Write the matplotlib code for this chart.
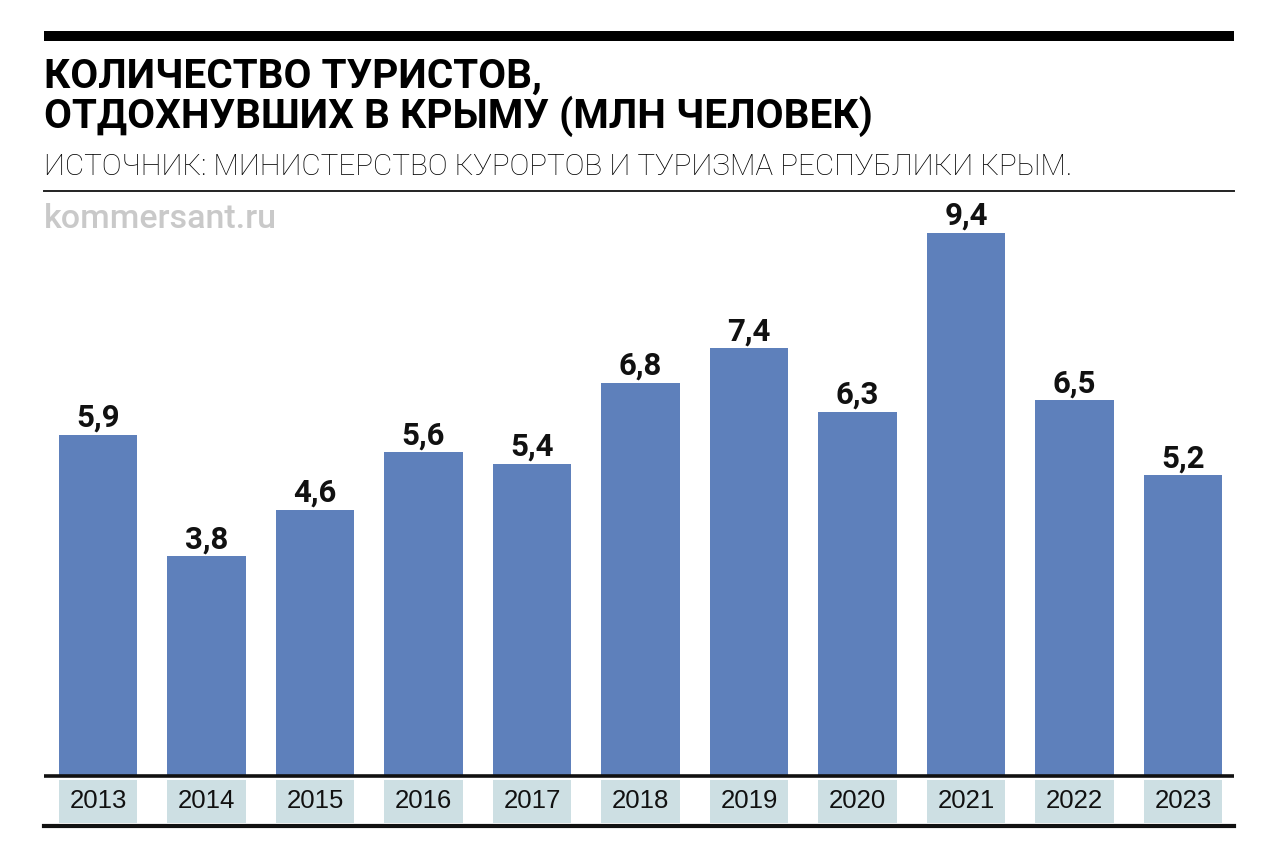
import matplotlib
matplotlib.use("Agg")
import matplotlib.pyplot as plt
from matplotlib.lines import Line2D
from matplotlib.patches import Rectangle

years = ["2013", "2014", "2015", "2016", "2017", "2018", "2019", "2020", "2021", "2022", "2023"]
values = [5.9, 3.8, 4.6, 5.6, 5.4, 6.8, 7.4, 6.3, 9.4, 6.5, 5.2]
value_labels = ["5,9", "3,8", "4,6", "5,6", "5,4", "6,8", "7,4", "6,3", "9,4", "6,5", "5,2"]

title_lines = ["КОЛИЧЕСТВО ТУРИСТОВ,", "ОТДОХНУВШИХ В КРЫМУ (МЛН ЧЕЛОВЕК)"]
subtitle = "ИСТОЧНИК: МИНИСТЕРСТВО КУРОРТОВ И ТУРИЗМА РЕСПУБЛИКИ КРЫМ."
watermark = "kommersant.ru"

W, H = 1280, 861
fig = plt.figure(figsize=(W / 100, H / 100), dpi=100)

def fx(x):
    return x / W

def fy(y):
    return 1 - y / H

BAR_COLOR = "#5e80bb"
BOX_COLOR = "#cddfe3"

ax = fig.add_axes([fx(44), fy(826), fx(1234) - fx(44), fy(198) - fy(826)])
x = list(range(len(years)))
ax.bar(x, values, width=0.72, color=BAR_COLOR, zorder=2)
# label boxes below baseline
box_bottom, box_top = -0.813, -0.069
ax.bar(x, [box_top - box_bottom] * len(x), bottom=box_bottom, width=0.72,
       color=BOX_COLOR, zorder=1)
for i, (v, lab, yr) in enumerate(zip(values, value_labels, years)):
    ax.text(i, v + 0.14, lab, ha="center", va="baseline", fontsize=22.5,
            fontweight="bold", family="Roboto", color="#111111")
    ax.text(i, (box_bottom + box_top) / 2, yr, ha="center", va="center",
            fontsize=18.5, family="Liberation Sans", color="#111111")
ax.set_xlim(-0.498, 10.47)
ax.set_ylim(-0.865, 10.0)
ax.axhline(0, color="#111111", lw=2.6, zorder=3)
ax.axhline(-0.865, color="#111111", lw=3.0, zorder=3, clip_on=False)
ax.axis("off")

# top thick bar
fig.add_artist(Rectangle((fx(44), fy(41)), fx(1234) - fx(44), fy(31) - fy(41),
                         transform=fig.transFigure, color="#000000", lw=0))
# thin separator
fig.add_artist(Line2D([fx(44), fx(1234)], [fy(191), fy(191)], transform=fig.transFigure,
                      color="#222222", lw=1.4))

fig.text(fx(44), fy(88), title_lines[0], fontsize=29.2, fontweight="bold", family="Roboto",
         va="baseline", ha="left", color="#000000")
fig.text(fx(44), fy(128), title_lines[1], fontsize=29.2, fontweight="bold", family="Roboto",
         va="baseline", ha="left", color="#000000")
fig.text(fx(44), fy(175), subtitle, fontsize=21.3, family="Roboto", fontweight="light",
         va="baseline", ha="left", color="#000000")
fig.text(fx(44), fy(228), watermark, fontsize=24.5, family="Roboto", fontweight="medium",
         va="baseline", ha="left", color="#c9c9c9")

fig.savefig("out.png", dpi=100)
